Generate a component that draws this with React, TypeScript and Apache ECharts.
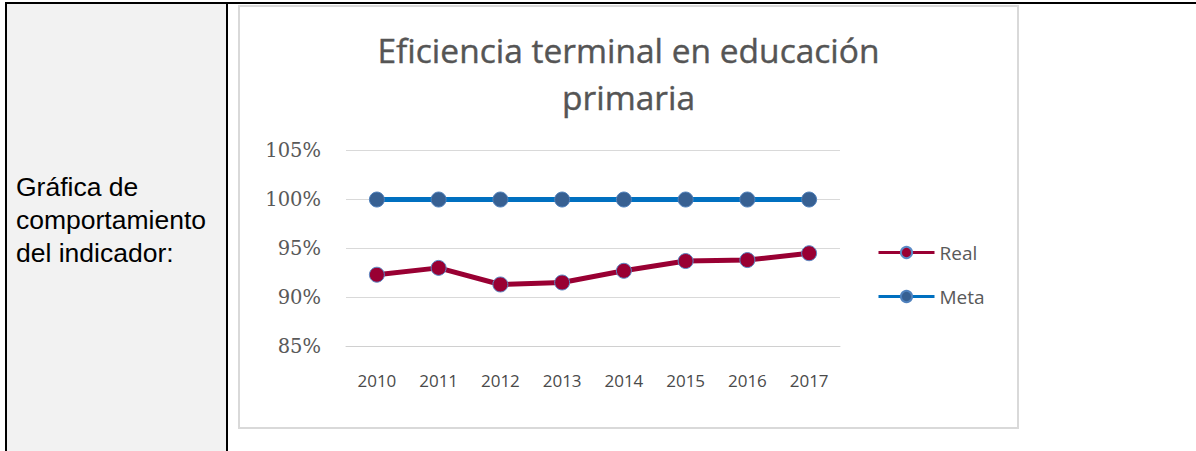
import React, { useEffect, useRef } from "react";
import * as echarts from "echarts";

const years = ["2010", "2011", "2012", "2013", "2014", "2015", "2016", "2017"];
const realValues = [92.3, 93.0, 91.3, 91.5, 92.7, 93.7, 93.8, 94.5];
const metaValues = [100, 100, 100, 100, 100, 100, 100, 100];
const chartTitle = "Eficiencia terminal en educación\nprimaria";
const cellLines = ["Gráfica de", "comportamiento", "del indicador:"];

export default function App() {
  const ref = useRef<HTMLDivElement>(null);
  useEffect(() => {
    if (!ref.current) return;
    const chart = echarts.init(ref.current, undefined, { renderer: "svg" });
    chart.setOption({
      animation: false,
      backgroundColor: "#ffffff",
      title: {
        text: chartTitle,
        left: "center",
        top: 19,
        padding: 0,
        textStyle: {
          fontFamily: "Open Sans",
          fontSize: 33.5,
          fontWeight: "normal",
          color: "#555555",
          lineHeight: 47,
          textBorderColor: "#555555",
          textBorderWidth: 0.4,
        },
      },
      legend: {
        data: ["Real", "Meta"],
        orient: "vertical",
        left: 632,
        top: 231,
        itemWidth: 56,
        itemHeight: 14,
        itemGap: 25,
        lineStyle: { width: 3 },
        textStyle: {
          fontFamily: "Open Sans",
          fontSize: 19,
          color: "#595959",
          lineHeight: 14,
        },
      },
      grid: { left: 106, top: 143.7, width: 494, height: 195.3 },
      xAxis: {
        type: "category",
        data: years,
        axisLine: { show: true, lineStyle: { color: "#d0d0d0", width: 1 } },
        axisTick: { show: false },
        axisLabel: {
          margin: 26,
          fontFamily: "Open Sans",
          fontSize: 17,
          color: "#4a4a4a",
        },
      },
      yAxis: {
        type: "value",
        min: 85,
        max: 105,
        interval: 5,
        axisLine: { show: false },
        axisTick: { show: false },
        splitLine: { lineStyle: { color: "#d9d9d9", width: 1 } },
        axisLabel: {
          margin: 25,
          fontFamily: "DejaVu Serif",
          fontSize: 19.5,
          color: "#595959",
          formatter: (v: number) => v + "%",
        },
      },
      series: [
        {
          name: "Real",
          type: "line",
          data: realValues,
          symbol: "circle",
          symbolSize: 15,
          lineStyle: { color: "#990033", width: 5 },
          itemStyle: { color: "#990033", borderColor: "#5b8ac6", borderWidth: 1 },
        },
        {
          name: "Meta",
          type: "line",
          data: metaValues,
          symbol: "circle",
          symbolSize: 15,
          lineStyle: { color: "#0070c0", width: 5 },
          itemStyle: { color: "#376092", borderColor: "#4f81bd", borderWidth: 1 },
        },
      ],
    });
    return () => chart.dispose();
  }, []);

  return (
    <div
      style={{
        position: "fixed",
        left: 0,
        top: 0,
        width: 1196,
        height: 451,
        background: "#ffffff",
        overflow: "hidden",
      }}
    >
      <div style={{ position: "absolute", left: 5, top: 2, width: 1191, height: 2, background: "#000" }} />
      <div style={{ position: "absolute", left: 5, top: 2, width: 2, height: 449, background: "#000" }} />
      <div style={{ position: "absolute", left: 7, top: 4, width: 219, height: 447, background: "#f2f2f2" }} />
      <div style={{ position: "absolute", left: 226, top: 2, width: 2, height: 449, background: "#000" }} />
      <div
        style={{
          position: "absolute",
          left: 16,
          top: 171,
          fontFamily: "'Liberation Sans', Arial, sans-serif",
          fontSize: 26.5,
          lineHeight: "33px",
          color: "#000",
          whiteSpace: "nowrap",
        }}
      >
        {cellLines.map((l) => (
          <div key={l}>{l}</div>
        ))}
      </div>
      <div
        style={{
          position: "absolute",
          left: 238,
          top: 5,
          width: 781,
          height: 424,
          border: "2px solid #d9d9d9",
          boxSizing: "border-box",
        }}
      >
        <div ref={ref} style={{ width: 777, height: 420 }} />
      </div>
    </div>
  );
}
